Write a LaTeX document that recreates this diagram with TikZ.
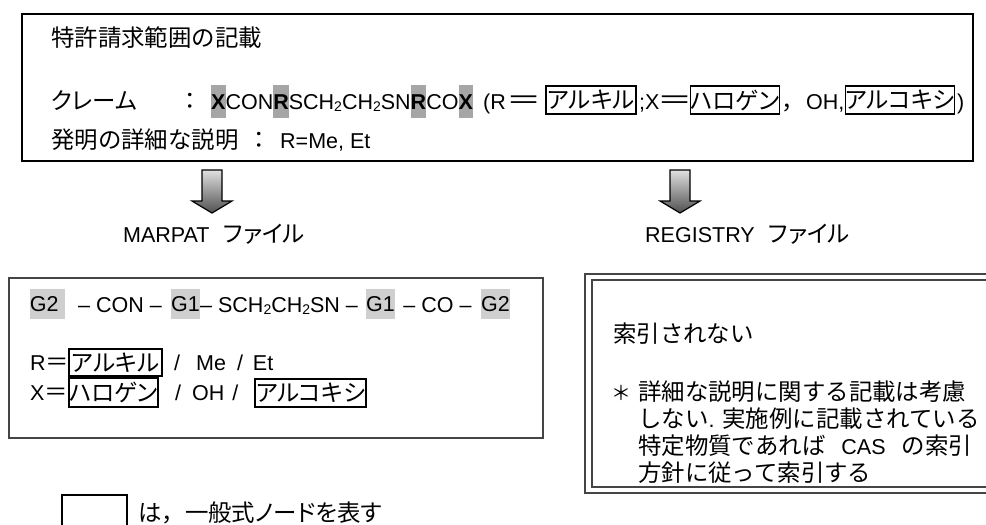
\documentclass[tikz,border=0pt]{standalone}
\usepackage{graphicx}
\usepackage{fontspec}
\setmainfont{Liberation Sans}
\newfontfamily\jpp{Noto Sans CJK JP}[Scale=1.09,RawFeature=+palt]
\newfontfamily\jpm{Noto Sans CJK JP}[Scale=1.09]
\definecolor{hlA}{HTML}{A6A6A6}
\definecolor{hlB}{HTML}{CFCFCF}
\definecolor{frameg}{HTML}{454545}
\definecolor{arrtop}{HTML}{E0E0E0}
\definecolor{arrbot}{HTML}{505050}
\newcommand{\lsub}{\raisebox{-0.22ex}{\fontsize{14}{14}\selectfont 2}}
\newcommand{\hla}[1]{{\fboxsep=0pt\colorbox{hlA}{\rule[-9pt]{0pt}{33pt}\textbf{#1}}}}
\newcommand{\wideeq}{\makebox[24pt][c]{\scalebox{1.5}[1.1]{\jpm ＝}}}
\begin{document}
\begin{tikzpicture}[x=1pt,y=-1pt,font=\fontsize{21.5}{25}\selectfont,
  lat/.style={anchor=base west,inner sep=0pt},
  latc/.style={anchor=base,inner sep=0pt},
  gbox/.style={draw=black,line width=1.6pt,inner sep=0pt,font=\fontsize{21.5}{25}\selectfont\jpp},
  hlbox/.style={fill=hlB,inner sep=0pt,minimum height=30pt},
  blockarrow/.style={top color=arrtop,bottom color=arrbot,draw=black,line width=1.2pt,line join=miter}]
\useasboundingbox (0,0) rectangle (986,525);
\clip (0,0) rectangle (986,525);
% ---------- top box
\draw[line width=2.5pt,draw=black] (22,14) rectangle (973,161);
\node[lat] (title) at (51,46) {\jpm 特許請求範囲の記載};
\node[lat] (claimlbl) at (51,109) {\jpp クレーム};
\node[latc] (colA) at (190,109) {\jpm ：};
\node[lat] (formula) at (211,109) {\hla{X}CON\hla{R}SCH\lsub CH\lsub SN\hla{R}CO\hla{X}};
\node[lat] (tA) at (483,109) {(R};
\node[latc] (tB) at (524,109) {\wideeq};
\node[gbox,minimum width=90.4pt,minimum height=28.4pt] (bA) at (591,100) {アルキル};
\node[lat] (tC) at (639,109) {;X};
\node[latc] (tD) at (675,109) {\wideeq};
\node[gbox,minimum width=88.4pt,minimum height=28.4pt] (bB) at (735,100) {ハロゲン};
\node[lat] (tE) at (781,109) {\jpm ，};
\node[lat] (tE2) at (806,109) {OH,};
\node[gbox,minimum width=108.4pt,minimum height=28.4pt] (bC) at (900,100) {アルコキシ};
\node[lat] (tF) at (957,109) {)};
\node[lat] (detlbl) at (51,148) {\jpm 発明の詳細な説明};
\node[latc] (colB) at (259,148) {\jpm ：};
\node[lat] (detail) at (280,148) {R=Me, Et};
% ---------- arrows
\shadedraw[blockarrow] (202,170) -- (222,170) -- (222,201) -- (232,201) -- (212,213) -- (192,201) -- (202,201) -- cycle;
\shadedraw[blockarrow] (670,170) -- (690,170) -- (690,201) -- (700,201) -- (680,213) -- (660,201) -- (670,201) -- cycle;
\node[lat] (marpat) at (123,242) {MARPAT\hspace{14pt}{\jpp ファイル}};
\node[lat] (registry) at (645,242) {REGISTRY\hspace{14pt}{\jpp ファイル}};
% ---------- MARPAT box
\draw[line width=1.8pt,draw=frameg] (9,278) rectangle (543,438);
\node[hlbox,minimum width=35pt,text width=35pt,align=left] (gA) at (47.5,304) {G2};
\node[latc] (s1) at (120,312) {– CON –};
\node[hlbox,minimum width=29pt] (gB) at (185.5,304) {G1};
\node[lat] (s2) at (200,312) {– SCH\lsub CH\lsub SN –};
\node[hlbox,minimum width=29pt] (gC) at (380.5,304) {G1};
\node[latc] (s3) at (437.5,312) {– CO –};
\node[hlbox,minimum width=29pt] (gD) at (495.5,304) {G2};
\node[lat] (rdef) at (30,370.5) {R{\jpm ＝}};
\node[gbox,minimum width=93.4pt,minimum height=27.4pt] (rA) at (115.5,362.5) {アルキル};
\node[lat] (rrest) at (174,370.5) {/\hspace{16pt}Me\hspace{11pt}/\hspace{10pt}Et};
\node[lat] (xdef) at (30,400.5) {X{\jpm ＝}};
\node[gbox,minimum width=89.4pt,minimum height=29.4pt] (xA) at (113.5,392.5) {ハロゲン};
\node[lat] (xrest) at (175,400.5) {/\hspace{11pt}OH\hspace{8pt}/};
\node[gbox,minimum width=111.4pt,minimum height=28.4pt] (xB) at (310.5,393) {アルコキシ};
% ---------- REGISTRY box
\draw[line width=2pt,draw=frameg] (585,274) rectangle (1000,493);
\draw[line width=1.6pt,draw=frameg] (592,280) rectangle (1000,487);
\node[lat] (noidx) at (613,342) {\jpm 索引されない};
\node[latc] (star) at (621,400) {\scalebox{0.85}{\jpm ＊}};
\node[lat] (n1) at (638,400) {\jpm 詳細な説明に関する記載は考慮};
\node[lat] (n2) at (638,427) {{\jpm しない}. {\jpm 実施例に記載されている}};
\node[lat] (n3) at (638,454) {{\jpm 特定物質であれば}\hspace{16pt}CAS\hspace{16pt}{\jpm の索引}};
\node[lat] (n4) at (638,481) {\jpm 方針に従って索引する};
% ---------- legend
\draw[line width=1.6pt,draw=black] (62,495) rectangle (127,540);
\node[lat] (legend) at (138,521) {{\jpp は}{\jpm ，}{\jpp 一般式ノードを表す}};
\end{tikzpicture}
\end{document}
